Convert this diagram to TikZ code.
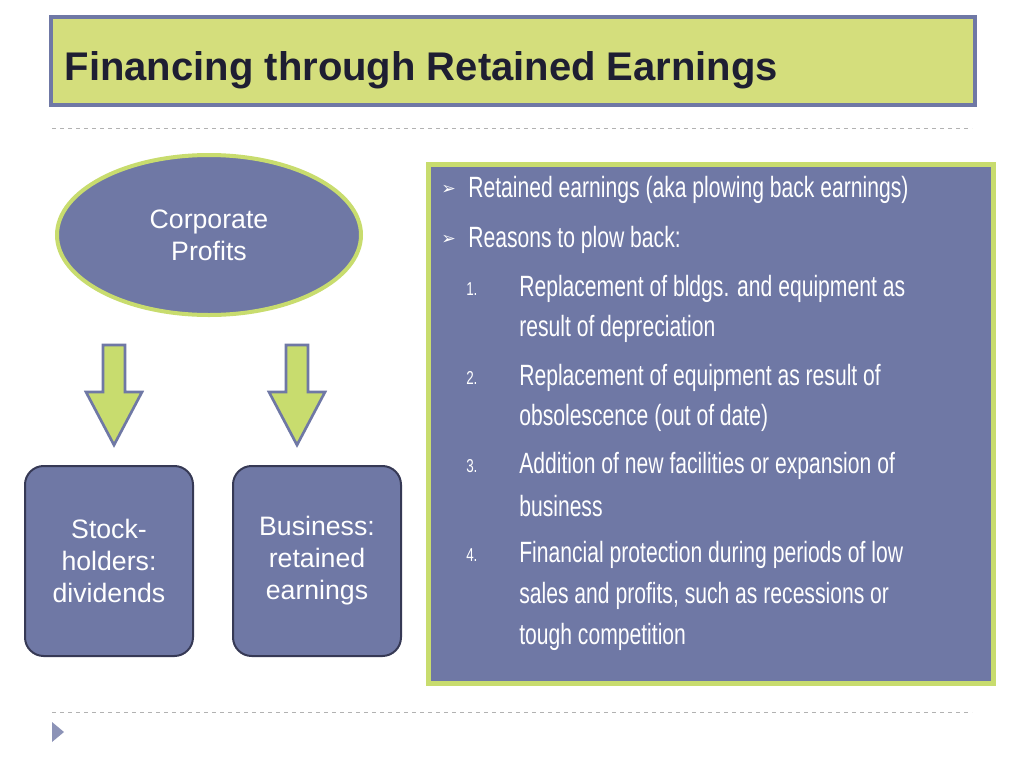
\documentclass[tikz,border=0pt]{standalone}
\usepackage{fontspec}
\setmainfont{Liberation Sans}
\newfontfamily\narrowf[FakeStretch=0.72]{Liberation Sans}
\newfontfamily\sym{DejaVu Sans}
\usetikzlibrary{shapes.geometric}
\definecolor{slate}{RGB}{111,120,165}
\definecolor{lime}{RGB}{212,222,124}
\definecolor{rimg}{RGB}{200,220,110}
\definecolor{darkt}{RGB}{30,30,50}
\tikzset{
  blk/.style={draw=darkt!70!slate, line width=1.5pt, fill=slate, rounded corners=14pt},
  arr/.style={draw=slate, line width=2pt, fill=rimg},
  ptxt/.style={anchor=west, text=white, font=\narrowf\fontsize{22}{26}\selectfont, inner sep=0pt},
  btxt/.style={align=center, text=white, font=\fontsize{20}{30}\selectfont}
}
\begin{document}
\begin{tikzpicture}[x=0.75pt,y=-0.75pt]
\useasboundingbox (0,0) rectangle (1024,768);
\node[draw=slate, line width=3pt, fill=lime, minimum width=924*0.75pt, minimum height=88*0.75pt, anchor=north west] (title) at (49,15) {};
\node[anchor=west, text=darkt, font=\bfseries\scshape\fontsize{30}{34}\selectfont] (tt) at (60,70) {Financing through Retained Earnings};
\draw[gray!60, dashed] (52,128) coordinate (d1) -- (972,128) coordinate (d2);
\draw[gray!60, dashed] (52,712) coordinate (d3) -- (972,712) coordinate (d4);
\fill[slate!80] (52,722) -- (64,732) -- (52,742) -- cycle;
\node[ellipse, draw=rimg, line width=3pt, fill=slate, minimum width=304*0.75pt, minimum height=160*0.75pt, btxt] (cp) at (209,235) {Corporate\\[-6pt]Profits};
\node[blk, minimum width=168*0.75pt, minimum height=190*0.75pt, btxt] (sh) at (109,561) {Stock-\\[-6pt]holders:\\[-6pt]dividends};
\node[blk, minimum width=168*0.75pt, minimum height=190*0.75pt, btxt] (bu) at (317,561) {Business:\\[-6pt]retained\\[-6pt]earnings};
\foreach \x in {114,297}{
  \draw[arr] (\x-11,345) -- (\x+11,345) -- (\x+11,392) -- (\x+28,392) -- (\x,445) -- (\x-28,392) -- (\x-11,392) -- cycle;
}
\node[draw=rimg, line width=4pt, fill=slate, minimum width=565*0.75pt, minimum height=519*0.75pt, anchor=north west] (panel) at (426,162) {};
\node[ptxt, text=white] at (441,190) {\sym\fontsize{13}{13}\selectfont ➢};
\node[ptxt] at (468,190) {Retained earnings (aka plowing back earnings)};
\node[ptxt] at (441,240) {\sym\fontsize{13}{13}\selectfont ➢};
\node[ptxt] at (468,240) {Reasons to plow back:};
\foreach \n/\y in {1./289,2./378,3./466,4./555}{
  \node[ptxt, font=\narrowf\fontsize{14}{16}\selectfont] at (466,\y) {\n};
}
\node[ptxt] at (519,289) {Replacement of bldgs. and equipment as};
\node[ptxt] at (519,329) {result of depreciation};
\node[ptxt] at (519,378) {Replacement of equipment as result of};
\node[ptxt] at (519,418) {obsolescence (out of date)};
\node[ptxt] at (519,466) {Addition of new facilities or expansion of};
\node[ptxt] at (519,506) {business};
\node[ptxt] at (519,555) {Financial protection during periods of low};
\node[ptxt] at (519,596) {sales and profits, such as recessions or};
\node[ptxt] at (519,637) {tough competition};
\end{tikzpicture}
\end{document}
